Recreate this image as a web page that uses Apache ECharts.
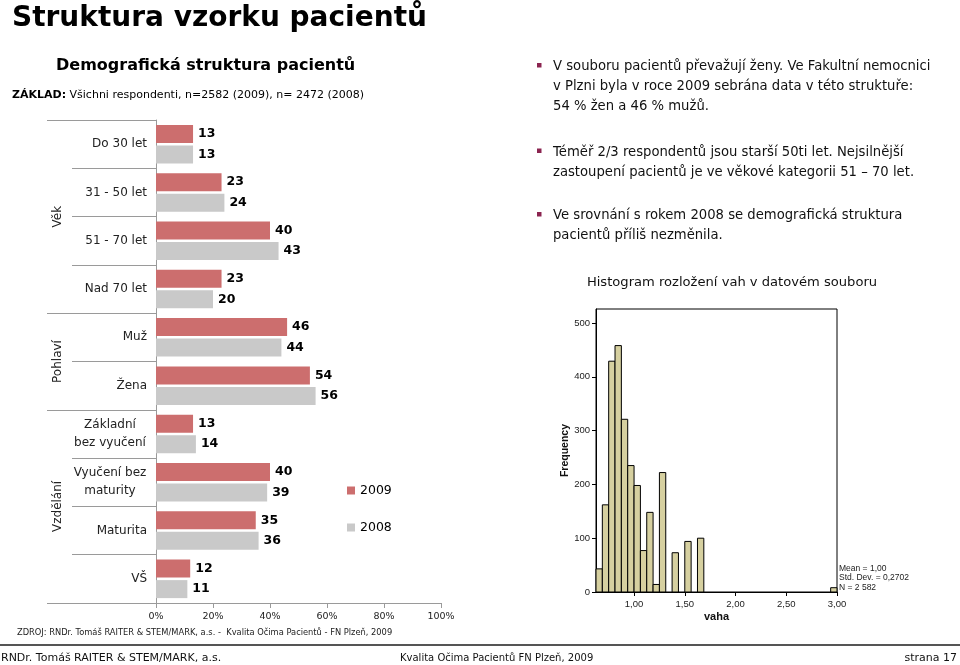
<!DOCTYPE html>
<html><head><meta charset="utf-8">
<script src="https://cdn.jsdelivr.net/npm/echarts@6/dist/echarts.min.js"></script>
<style>html,body{margin:0;padding:0;background:#fff}#main{width:960px;height:665px}</style>
</head><body><div id="main"></div>
<script>
// ---- data ----
const categories = ['Do 30 let','31 - 50 let','51 - 70 let','Nad 70 let','Muž','Žena','Základní\nbez vyučení','Vyučení bez\nmaturity','Maturita','VŠ'];
const values2009 = [13,23,40,23,46,54,13,40,35,12];
const values2008 = [13,24,43,20,44,56,14,39,36,11];
const seriesNames = ['2009','2008'];
const groupNames = ['Věk','Pohlaví','Vzdělání'];
const groupFirst = [0,4,6];
const groupLast = [3,5,9];
const histBinStart = 0.625;
const histBinWidth = 0.0625;
const histCounts = [43,162,429,458,321,235,198,77,148,14,222,0,73,0,94,0,100,0,0,0,0,0,0,0,0,0,0,0,0,0,0,0,0,0,0,0,0,8];
const histXTicks = [1,1.5,2,2.5,3];
const histYTicks = [0,100,200,300,400,500];
const histStats = ['Mean = 1,00','Std. Dev. = 0,2702','N = 2 582'];

const F = 'DejaVu Sans';
const A = 'Liberation Sans';
const RED = '#CC6E6E', GRAY = '#C9C9C9', AX = '#9a9a9a';

const histData = histCounts.map((c,i)=>[histBinStart+i*histBinWidth, histBinStart+(i+1)*histBinWidth, c]);

const chart = echarts.init(document.getElementById('main'), null, {renderer:'canvas'});

const staticGraphics = [
  {type:'text', x:12, y:19, style:{text:'Struktura vzorku pacientů', font:'bold 28px "'+F+'"', fill:'#000', verticalAlign:'middle'}},
  {type:'text', x:56, y:66, style:{text:'Demografická struktura pacientů', font:'bold 16px "'+F+'"', fill:'#000', verticalAlign:'middle'}},
  {type:'text', x:12, y:95, style:{text:'{b|ZÁKLAD:} Všichni respondenti, n=2582 (2009), n= 2472 (2008)', font:'11px "'+F+'"', fill:'#000', verticalAlign:'middle',
     rich:{b:{fontWeight:'bold', fontSize:11, fontFamily:F, fill:'#000'}}}},
  {type:'rect', shape:{x:537,y:63,width:4.5,height:4.5}, style:{fill:'#8B2450'}},
  {type:'rect', shape:{x:537,y:148.5,width:4.5,height:4.5}, style:{fill:'#8B2450'}},
  {type:'rect', shape:{x:537,y:212,width:4.5,height:4.5}, style:{fill:'#8B2450'}},
  {type:'text', x:553, y:57, style:{text:'V souboru pacientů převažují ženy. Ve Fakultní nemocnici\nv Plzni byla v roce 2009 sebrána data v této struktuře:\n54 % žen a 46 % mužů.', font:'13.2px "'+F+'"', lineHeight:20, fill:'#111', verticalAlign:'top'}},
  {type:'text', x:553, y:143, style:{text:'Téměř 2/3 respondentů jsou starší 50ti let. Nejsilnější\nzastoupení pacientů je ve věkové kategorii 51 – 70 let.', font:'13.2px "'+F+'"', lineHeight:20, fill:'#111', verticalAlign:'top'}},
  {type:'text', x:553, y:206, style:{text:'Ve srovnání s rokem 2008 se demografická struktura\npacientů příliš nezměnila.', font:'13.2px "'+F+'"', lineHeight:20, fill:'#111', verticalAlign:'top'}},
  {type:'text', x:732, y:283, style:{text:'Histogram rozložení vah v datovém souboru', font:'13.1px "'+F+'"', fill:'#111', align:'center', verticalAlign:'middle'}},
  {type:'text', x:839, y:564, style:{text:histStats.join('\n'), font:'8.5px "'+A+'"', lineHeight:9.3, fill:'#222', verticalAlign:'top'}},
  {type:'text', x:17, y:633, style:{text:'ZDROJ: RNDr. Tomáš RAITER & STEM/MARK, a.s. -  Kvalita Očima Pacientů - FN Plzeň, 2009', font:'8.3px "'+F+'"', fill:'#222', verticalAlign:'middle'}},
  {type:'line', shape:{x1:0,y1:645,x2:960,y2:645}, style:{stroke:'#555', lineWidth:2}},
  {type:'text', x:1, y:658, style:{text:'RNDr. Tomáš RAITER & STEM/MARK, a.s.', font:'11px "'+F+'"', fill:'#111', verticalAlign:'middle'}},
  {type:'text', x:400, y:658, style:{text:'Kvalita Očima Pacientů FN Plzeň, 2009', font:'10px "'+F+'"', fill:'#111', verticalAlign:'middle'}},
  {type:'text', x:957, y:658, style:{text:'strana 17', font:'11px "'+F+'"', fill:'#111', align:'right', verticalAlign:'middle'}}
];

const barLabel = {show:true, position:'right', distance:5, color:'#000', fontWeight:'bold', fontSize:12.5, fontFamily:F};

const option = {
  animation:false,
  backgroundColor:'#fff',
  legend:{data:seriesNames, orient:'vertical', left:342, top:479, itemWidth:8, itemHeight:8, itemGap:24, icon:'rect',
    textStyle:{fontSize:12.5, fontFamily:F, color:'#000'}},
  grid:[
    {left:156, top:120, width:285, height:483},
    {left:596, top:309, width:241, height:283, show:true, borderColor:'#000', borderWidth:1, backgroundColor:'transparent'}
  ],
  xAxis:[
    {type:'value', gridIndex:0, min:0, max:100, interval:20,
      axisLine:{show:true, lineStyle:{color:AX}}, axisTick:{show:true, length:5, lineStyle:{color:AX}},
      splitLine:{show:false},
      axisLabel:{formatter:'{value}%', fontSize:9.5, fontFamily:F, color:'#222', margin:9}},
    {type:'value', gridIndex:1, min:histBinStart, max:histBinStart+histCounts.length*histBinWidth,
      axisLine:{show:true, onZero:false, lineStyle:{color:'#000'}},
      axisTick:{show:true, length:4, customValues:histXTicks, lineStyle:{color:'#000'}},
      axisLabel:{customValues:histXTicks, formatter:v=>v.toFixed(2).replace('.',','), fontSize:9.5, fontFamily:A, color:'#222', margin:7},
      splitLine:{show:false},
      name:'vaha', nameLocation:'middle', nameGap:19, nameTextStyle:{fontWeight:'bold', fontSize:11, fontFamily:A, color:'#111'}}
  ],
  yAxis:[
    {type:'category', gridIndex:0, data:categories, inverse:true,
      axisLine:{show:true, lineStyle:{color:AX}},
      axisTick:{show:true, length:84, interval:0, lineStyle:{color:AX}},
      axisLabel:{margin:9, fontSize:12, fontFamily:F, color:'#222', lineHeight:18, interval:0,
        formatter:v=>v.indexOf('\n')>=0 ? v.split('\n').map(s=>'{c|'+s+'}').join('\n') : v,
        rich:{c:{width:74, align:'center', fontSize:12, fontFamily:F, color:'#222', lineHeight:18}}}},
    {type:'category', gridIndex:0, data:categories, inverse:true, position:'left',
      axisLine:{show:false}, axisLabel:{show:false},
      axisTick:{show:true, length:109, interval:(i)=>groupFirst.indexOf(i)>=0, lineStyle:{color:AX}}},
    {type:'value', gridIndex:1, min:0, max:526,
      axisLine:{show:true, lineStyle:{color:'#000'}},
      axisTick:{show:true, length:4, customValues:histYTicks, lineStyle:{color:'#000'}},
      axisLabel:{customValues:histYTicks, fontSize:9.5, fontFamily:A, color:'#222', margin:6},
      splitLine:{show:false},
      name:'Frequency', nameLocation:'middle', nameGap:25, nameRotate:90, nameTextStyle:{fontWeight:'bold', fontSize:10.5, fontFamily:A, color:'#111'}}
  ],
  series:[
    {name:seriesNames[0], type:'bar', xAxisIndex:0, yAxisIndex:0, data:values2009, barWidth:18, barGap:'14%', itemStyle:{color:RED}, label:barLabel},
    {name:seriesNames[1], type:'bar', xAxisIndex:0, yAxisIndex:0, data:values2008, barWidth:18, barGap:'14%', itemStyle:{color:GRAY}, label:barLabel},
    {name:'hist', type:'custom', xAxisIndex:1, yAxisIndex:2, data:histData, encode:{x:[0,1], y:2},
      renderItem:function(params, api){
        const c = api.value(2);
        if(!c) return null;
        const p0 = api.coord([api.value(0), c]);
        const p1 = api.coord([api.value(1), 0]);
        return {type:'rect', shape:{x:p0[0], y:p0[1], width:p1[0]-p0[0], height:p1[1]-p0[1]},
          style:{fill:'#D6D0A0', stroke:'#000', lineWidth:1}};
      }}
  ],
  graphic:staticGraphics
};
chart.setOption(option);

// group labels positioned from the category axis
const groupGraphics = groupNames.map((g,k)=>{
  const y0 = chart.convertToPixel({yAxisIndex:0}, groupFirst[k]);
  const y1 = chart.convertToPixel({yAxisIndex:0}, groupLast[k]);
  return {type:'text', x:58, y:(y0+y1)/2, rotation:Math.PI/2,
    style:{text:g, font:'12px "'+F+'"', fill:'#222', align:'center', verticalAlign:'middle'}};
});
chart.setOption({graphic:staticGraphics.concat(groupGraphics)});
</script></body></html>
